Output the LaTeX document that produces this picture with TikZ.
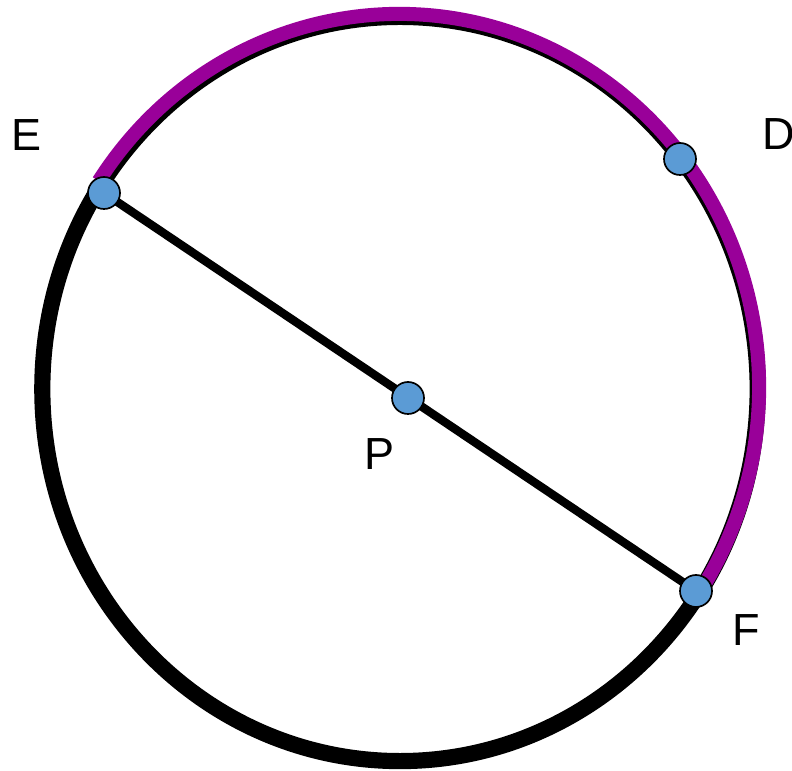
\documentclass[tikz,border=0pt]{standalone}
\usepackage{fontspec}
\setmainfont{Liberation Sans}
\definecolor{arcpurple}{HTML}{990099}
\definecolor{dotblue}{HTML}{5B9BD5}
\tikzset{
  dot/.style={circle, draw=black, line width=1.2pt, fill=dotblue, minimum size=0.8cm, inner sep=0pt},
  lbl/.style={inner sep=0pt, font=\fontsize{32}{38}\selectfont}
}
\begin{document}
\begin{tikzpicture}[x=0.025cm, y=0.025cm, line cap=butt]
  \useasboundingbox (0,0) rectangle (792,771);

  % Circle centres
  \coordinate (O) at (400,382);
  \coordinate (Q) at (399,384);

  % Points on the circle
  \coordinate (E) at (104,578);
  \coordinate (D) at (680,612);
  \coordinate (P) at (408,373);
  \coordinate (F) at (696,180);

  % Circle
  \draw[line width=11.5pt] (O) ellipse [x radius=8.94cm, y radius=9.3cm];

  % Arc EDF
  \draw[arcpurple, line width=10pt]
    ([shift={(146.5:9cm and 9.325cm)}]Q) arc[start angle=146.5, end angle=-31.5, x radius=9cm, y radius=9.325cm];

  % Diameter EF
  \draw[line width=6pt] (E) -- (F);

  % Points
  \node[dot] (e) at (E) {};
  \node[dot] (d) at (D) {};
  \node[dot] (p) at (P) {};
  \node[dot] (f) at (F) {};

  % Labels
  \node[lbl] at (27,636) {E};
  \node[lbl] at (779,637) {D};
  \node[lbl] at (380,317) {P};
  \node[lbl] at (746,141) {F};
\end{tikzpicture}
\end{document}
